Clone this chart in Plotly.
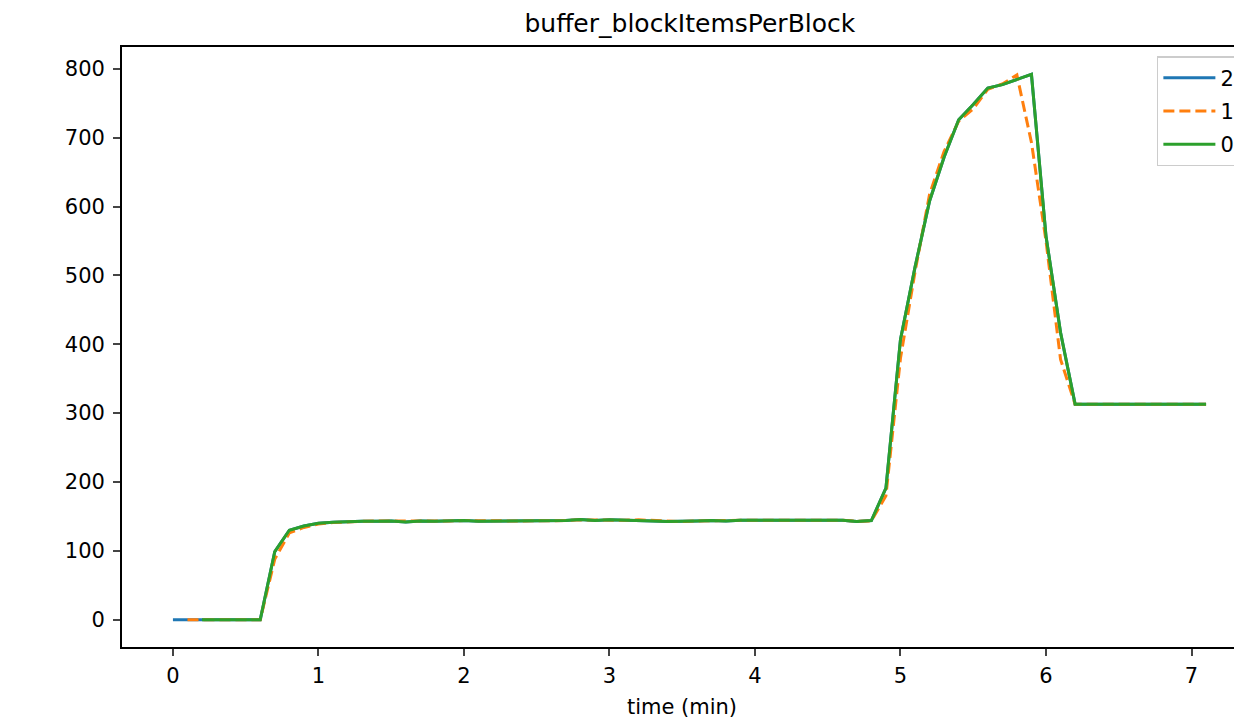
import plotly.graph_objects as go

# time axes (minutes)
t_blue = [round(0.1 * i, 1) for i in range(0, 72)]     # 0.0 .. 7.1
t_orange = [round(0.1 * i, 1) for i in range(1, 72)]   # 0.1 .. 7.1
t_green = [round(0.1 * i, 1) for i in range(2, 72)]    # 0.2 .. 7.1

flat_green = [140, 141.5, 142.5, 143, 143, 143.5, 142, 143.5, 143, 143.5,
              144, 143, 143, 143.5, 143.5, 143.5, 143.5, 144, 145.5, 144,
              145, 144.5, 145, 143.5, 142.5, 142.5, 143.5, 144, 143.5, 144.5,
              144.5, 144, 144, 144.5, 144.5, 144.5, 144.5, 142.5, 144]  # 1.0 .. 4.8
flat_orange = [139, 141, 142.5, 143, 143.5, 143.5, 142.5, 143.5, 143, 143.5,
               144, 143.5, 143, 143.5, 143.5, 143.5, 143.5, 144, 145, 144.5,
               145, 144.5, 145, 144, 143, 142.5, 143.5, 144, 144, 144.5,
               144.5, 144.5, 144, 144.5, 144.5, 144.5, 144.5, 143, 143.5]

peak_green = [191, 407, 512, 608, 672, 726, 748, 772, 777, 785, 792, 557, 417, 313]   # 4.9 .. 6.2
peak_orange = [180, 380, 505, 618, 680, 724, 742, 770, 778, 791, 693, 550, 378, 313]

tail = [313, 313, 313, 313, 313, 313, 313, 313, 313]  # 6.3 .. 7.1

y_green = [0, 0, 0, 0, 0, 99, 130, 136] + flat_green + peak_green + tail           # from 0.2
y_orange = [0, 0, 0, 0, 0, 0, 88, 126, 134] + flat_orange + peak_orange + tail     # from 0.1
y_blue = [0, 0, 0, 0, 0, 0, 0, 99, 130, 136] + flat_green + peak_green + tail      # from 0.0

x_ticks = [0, 1, 2, 3, 4, 5, 6, 7]
y_ticks = [0, 100, 200, 300, 400, 500, 600, 700, 800]

fig = go.Figure()
fig.add_trace(go.Scatter(x=t_blue, y=y_blue, mode="lines", name="2", legendgroup="a",
                         line=dict(color="#1f77b4", width=3)))
fig.add_trace(go.Scatter(x=t_orange, y=y_orange, mode="lines", name="1", legendgroup="b",
                         line=dict(color="#ff7f0e", width=3, dash="11px,5px")))
fig.add_trace(go.Scatter(x=t_green, y=y_green, mode="lines", name="0", legendgroup="c",
                         line=dict(color="#2ca02c", width=3)))

font_family = "DejaVu Sans"
fig.update_layout(
    width=1234, height=713,
    margin=dict(l=114, r=0, t=39, b=74, autoexpand=False),
    paper_bgcolor="white", plot_bgcolor="white",
    font=dict(family=font_family, size=21, color="black"),
    title=dict(text="buffer_blockItemsPerBlock", xref="paper", x=0.507, xanchor="center",
               y=0.979, yanchor="middle", font=dict(size=25, family=font_family)),
    showlegend=True,
    legend=dict(x=0.924, xanchor="left", y=0.985, yanchor="top",
                bgcolor="rgba(255,255,255,0.8)", bordercolor="#cccccc", borderwidth=1.5,
                font=dict(size=21, family=font_family), tracegroupgap=3, itemwidth=52),
    xaxis=dict(range=[-0.35, 7.347], tickvals=x_ticks, ticks="outside", ticklen=7,
               tickwidth=1.7, showline=True, linecolor="black", linewidth=1.7,
               mirror=True, showgrid=False, zeroline=False, ticklabelstandoff=2,
               title=dict(text="time (min)", font=dict(size=21), standoff=12)),
    yaxis=dict(range=[-39.6, 831.6], tickvals=y_ticks, ticks="outside", ticklen=7,
               tickwidth=1.7, showline=True, linecolor="black", linewidth=1.7,
               showgrid=False, zeroline=False, ticklabelstandoff=4),
)

fig.write_html("out.html")
